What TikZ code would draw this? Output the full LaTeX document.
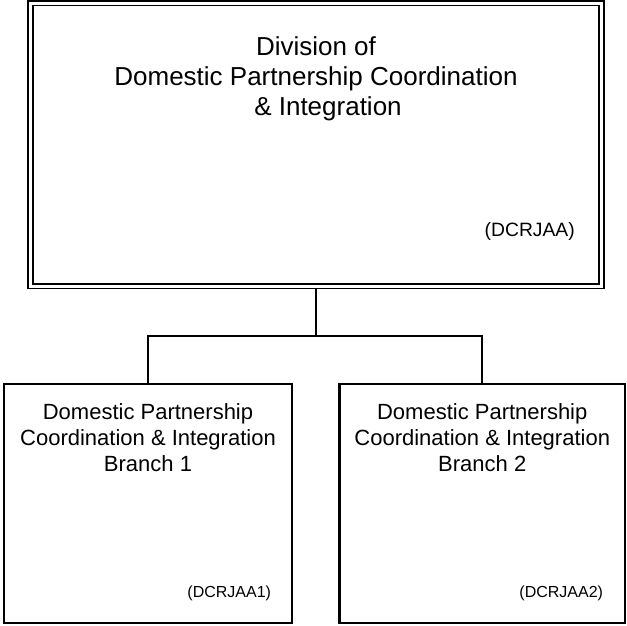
\documentclass[tikz,border=0pt]{standalone}
\usepackage{fontspec}
\setmainfont{Liberation Sans}
\usetikzlibrary{positioning}

\begin{document}
\begin{tikzpicture}[x=1pt,y=-1pt,
		division/.style={draw,double,double distance=3pt,line width=1.6pt,minimum width=571pt,minimum height=283pt,inner sep=0pt,outer sep=2.5pt},
		branch/.style={draw,line width=2.5pt,minimum height=239pt,inner sep=0pt},
		title text/.style={align=center,inner sep=0pt,font=\fontsize{26}{30}\selectfont},
		branch text/.style={align=center,inner sep=0pt,font=\fontsize{22}{26}\selectfont},
		code text/.style={inner sep=0pt,font=\fontsize{16}{19}\selectfont},
		link/.style={line width=2pt}]
		
		\useasboundingbox (0,0) rectangle (627,626);
		
		\node[division](div) at (316,144.8) {};
		\node[branch,minimum width=288pt](br1) at (148,503.5) {};
		\node[branch,minimum width=285.5pt](br2) at (482.25,503.5) {};
		
		\node[title text,below=36pt of div.north](divname) {Division of\\Domestic Partnership Coordination\\\hspace*{24pt}\& Integration};
		\node[code text,font=\fontsize{19.3}{22}\selectfont,above left=52pt and 29pt of div.south east,anchor=base east](divcode) {(DCRJAA)};
		
		\node[branch text,below=21pt of br1.north](br1name) {Domestic Partnership\\Coordination \& Integration\\Branch 1};
		\node[branch text,below=21pt of br2.north](br2name) {Domestic Partnership\\Coordination \& Integration\\Branch 2};
		\node[code text,above left=27pt and 22pt of br1.south east,anchor=base east](br1code) {(DCRJAA1)};
		\node[code text,above left=27pt and 23pt of br2.south east,anchor=base east](br2code) {(DCRJAA2)};
		
		\coordinate[below=47pt of div.south](fork);
		\draw[link] (div.south) -- (fork) -| (br1.north);
		\draw[link] (fork) -| (br2.north);
		
	\end{tikzpicture}
\end{document}
